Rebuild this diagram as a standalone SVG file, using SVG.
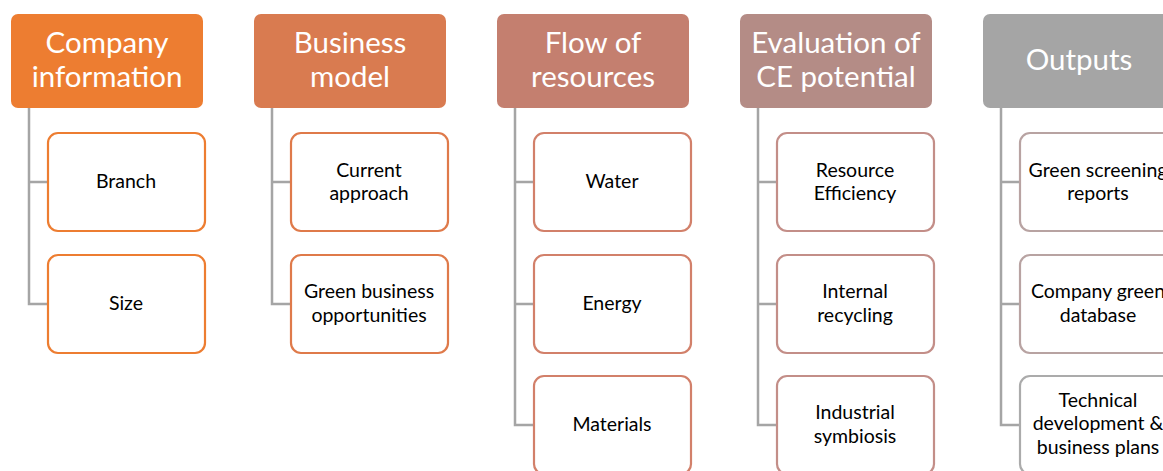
<svg xmlns="http://www.w3.org/2000/svg" width="1163" height="471" viewBox="0 0 1163 471">
<style>
.hdr{stroke:none}
.ht{font-family:Lato,"Open Sans",sans-serif;font-size:29.5px;fill:#fff;text-anchor:middle}
.box{fill:#fff;stroke-width:2.2}
.ct{font-family:Lato,"Open Sans",sans-serif;font-size:19.5px;fill:#000;text-anchor:middle}
.conn{fill:none;stroke:#A5A5A5;stroke-width:2.5}
</style>
<rect width="1163" height="471" fill="#fff"/>
<g id="connectors">
<path class="conn" d="M29,108 V304 H48 M29,182 H48"/>
<path class="conn" d="M272,108 V304 H291 M272,182 H291"/>
<path class="conn" d="M515,108 V425 H534 M515,182 H534 M515,304 H534"/>
<path class="conn" d="M758,108 V425 H777 M758,182 H777 M758,304 H777"/>
<path class="conn" d="M1001,108 V425 H1020 M1001,182 H1020 M1001,304 H1020"/>
</g>
<g id="h1"><rect class="hdr" x="11" y="14" width="192" height="94" rx="7" fill="#ED7D31"/><text class="ht" x="107" y="53">Company</text><text class="ht" x="107" y="87">information</text></g>
<g id="h2"><rect class="hdr" x="254" y="14" width="192" height="94" rx="7" fill="#D97B50"/><text class="ht" x="350" y="53">Business</text><text class="ht" x="350" y="87">model</text></g>
<g id="h3"><rect class="hdr" x="497" y="14" width="192" height="94" rx="7" fill="#C47F6F"/><text class="ht" x="593" y="53">Flow of</text><text class="ht" x="593" y="87">resources</text></g>
<g id="h4"><rect class="hdr" x="740" y="14" width="192" height="94" rx="7" fill="#B48C86"/><text class="ht" x="836" y="53">Evaluation of</text><text class="ht" x="836" y="87">CE potential</text></g>
<g id="h5"><rect class="hdr" x="983" y="14" width="192" height="94" rx="7" fill="#A5A5A5"/><text class="ht" x="1079" y="70">Outputs</text></g>

<g id="c1a"><rect class="box" x="48" y="133" width="157" height="98" rx="10" stroke="#ED7D31"/><text class="ct" x="126" y="188">Branch</text></g>
<g id="c1b"><rect class="box" x="48" y="255" width="157" height="98" rx="10" stroke="#ED7D31"/><text class="ct" x="126" y="310">Size</text></g>

<g id="c2a"><rect class="box" x="291" y="133" width="157" height="98" rx="10" stroke="#DF7A4A"/><text class="ct" x="369" y="177">Current</text><text class="ct" x="369" y="200">approach</text></g>
<g id="c2b"><rect class="box" x="291" y="255" width="157" height="98" rx="10" stroke="#DF7A4A"/><text class="ct" x="369" y="298">Green business</text><text class="ct" x="369" y="322">opportunities</text></g>

<g id="c3a"><rect class="box" x="534" y="133" width="157" height="98" rx="10" stroke="#D2806A"/><text class="ct" x="612" y="188">Water</text></g>
<g id="c3b"><rect class="box" x="534" y="255" width="157" height="98" rx="10" stroke="#D2806A"/><text class="ct" x="612" y="310">Energy</text></g>
<g id="c3c"><rect class="box" x="534" y="376" width="157" height="98" rx="10" stroke="#D2806A"/><text class="ct" x="612" y="431">Materials</text></g>

<g id="c4a"><rect class="box" x="777" y="133" width="157" height="98" rx="10" stroke="#C38E88"/><text class="ct" x="855" y="177">Resource</text><text class="ct" x="855" y="200">Efficiency</text></g>
<g id="c4b"><rect class="box" x="777" y="255" width="157" height="98" rx="10" stroke="#C38E88"/><text class="ct" x="855" y="298">Internal</text><text class="ct" x="855" y="322">recycling</text></g>
<g id="c4c"><rect class="box" x="777" y="376" width="157" height="98" rx="10" stroke="#C38E88"/><text class="ct" x="855" y="419">Industrial</text><text class="ct" x="855" y="443">symbiosis</text></g>

<g id="c5a"><rect class="box" x="1020" y="133" width="157" height="98" rx="10" stroke="#B8A3A2"/><text class="ct" x="1098" y="177">Green screening</text><text class="ct" x="1098" y="200">reports</text></g>
<g id="c5b"><rect class="box" x="1020" y="255" width="157" height="98" rx="10" stroke="#B8A3A2"/><text class="ct" x="1098" y="298">Company green</text><text class="ct" x="1098" y="322">database</text></g>
<g id="c5c"><rect class="box" x="1020" y="376" width="157" height="98" rx="10" stroke="#ABABAB"/><text class="ct" x="1098" y="407">Technical</text><text class="ct" x="1098" y="430">development &amp;</text><text class="ct" x="1098" y="454">business plans</text></g>
</svg>
